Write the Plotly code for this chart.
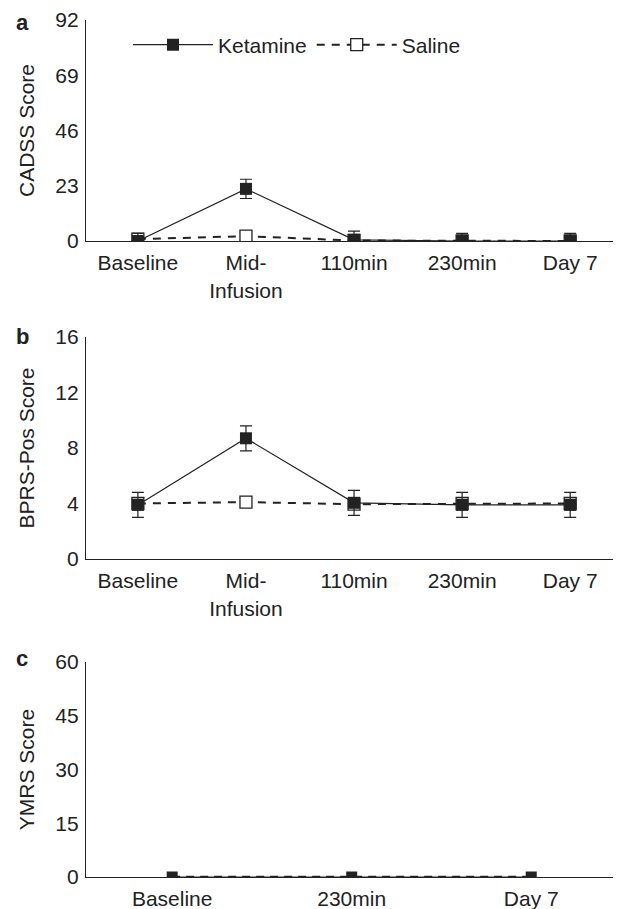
import plotly.graph_objects as go

# ---- data ----
cats_ab = ["Baseline", "Mid-<br>Infusion", "110min", "230min", "Day 7"]
cats_c = ["Baseline", "230min", "Day 7"]

cadss_ket = [0.0, 21.7, 0.5, 0.0, 0.0]
cadss_ket_err = [3.2, 4.0, 3.6, 3.2, 3.2]
cadss_sal = [0.8, 2.0, 0.2, 0.0, 0.0]

bprs_ket = [3.9, 8.7, 4.05, 3.9, 3.9]
bprs_ket_err = [0.9, 0.9, 0.9, 0.9, 0.9]
bprs_sal = [4.0, 4.1, 3.95, 4.0, 4.0]

ymrs_ket = [0.0, 0.0, 0.0]
ymrs_sal = [0.0, 0.0, 0.0]

yticks_a = [0, 23, 46, 69, 92]
yticks_b = [0, 4, 8, 12, 16]
yticks_c = [0, 15, 30, 45, 60]

DARK = "#222222"
FONT = "Liberation Sans, Arial, sans-serif"
OFF = 8               # page body margin
W, H = 621 - OFF, 909 - OFF

def py(px):
    return 1 - (px - OFF) / H

def pxx(px):
    return (px - OFF) / W

fig = go.Figure()

xa = list(range(len(cats_ab)))
xc = list(range(len(cats_c)))

# Panel a
fig.add_trace(go.Scatter(x=xa, y=cadss_sal, mode="lines+markers", name="Saline",
                         line=dict(color=DARK, width=2, dash="8px,7px"),
                         marker=dict(symbol="square", size=12, color="white",
                                     line=dict(color=DARK, width=1.3)),
                         xaxis="x", yaxis="y", legendrank=2))
fig.add_trace(go.Scatter(x=xa, y=cadss_ket, mode="lines+markers", name="Ketamine",
                         line=dict(color=DARK, width=1.2),
                         marker=dict(symbol="square", size=12, color=DARK),
                         error_y=dict(type="data", array=cadss_ket_err, color=DARK,
                                      thickness=1.2, width=6),
                         xaxis="x", yaxis="y", legendrank=1))
# Panel b
fig.add_trace(go.Scatter(x=xa, y=bprs_sal, mode="lines+markers", name="Saline",
                         line=dict(color=DARK, width=2, dash="8px,7px"),
                         marker=dict(symbol="square", size=12, color="white",
                                     line=dict(color=DARK, width=1.3)),
                         xaxis="x2", yaxis="y2", showlegend=False))
fig.add_trace(go.Scatter(x=xa, y=bprs_ket, mode="lines+markers", name="Ketamine",
                         line=dict(color=DARK, width=1.2),
                         marker=dict(symbol="square", size=12, color=DARK),
                         error_y=dict(type="data", array=bprs_ket_err, color=DARK,
                                      thickness=1.2, width=6),
                         xaxis="x2", yaxis="y2", showlegend=False))
# Panel c
fig.add_trace(go.Scatter(x=xc, y=ymrs_ket, mode="lines+markers", name="Ketamine",
                         line=dict(color=DARK, width=1.2),
                         marker=dict(symbol="square", size=11, color=DARK),
                         xaxis="x3", yaxis="y3", showlegend=False))
fig.add_trace(go.Scatter(x=xc, y=ymrs_sal, mode="lines", name="Saline",
                         line=dict(color=DARK, width=2.5, dash="8px,6px"),
                         xaxis="x3", yaxis="y3", showlegend=False))

xdom = [pxx(86), 1.0]
common_x = dict(showgrid=False, zeroline=False, showline=True, linecolor=DARK,
                linewidth=1.2, ticks="", tickfont=dict(family=FONT, size=21, color=DARK),
                tickmode="array", domain=xdom, automargin=False, ticklabelstandoff=3)
common_y = dict(showgrid=False, zeroline=False, showline=True, linecolor=DARK,
                linewidth=1.2, ticks="", tickfont=dict(family=FONT, size=21, color=DARK),
                tickmode="array", ticklabelstandoff=2, automargin=False,
                title_font=dict(family=FONT, size=21, color=DARK), title_standoff=14)

letter = dict(xref="paper", yref="paper", showarrow=False, xanchor="center",
              yanchor="middle", font=dict(family=FONT, size=22, color=DARK))

fig.update_layout(
    width=W, height=H, margin=dict(l=0, r=0, t=0, b=0, autoexpand=False),
    paper_bgcolor="white", plot_bgcolor="white",
    xaxis=dict(common_x, range=[-0.48, 4.47], tickvals=xa, ticktext=cats_ab, anchor="y"),
    yaxis=dict(common_y, domain=[py(241), py(20)], range=[0, 92], tickvals=yticks_a,
               title_text="CADSS Score", anchor="x"),
    xaxis2=dict(common_x, range=[-0.48, 4.47], tickvals=xa, ticktext=cats_ab, anchor="y2"),
    yaxis2=dict(common_y, domain=[py(559), py(337)], range=[0, 16], tickvals=yticks_b,
                title_text="BPRS-Pos Score", anchor="x2"),
    xaxis3=dict(common_x, range=[-0.48, 2.5], tickvals=xc, ticktext=cats_c, anchor="y3"),
    yaxis3=dict(common_y, domain=[py(877), py(662)], range=[0, 60], tickvals=yticks_c,
                title_text="YMRS Score", anchor="x3"),
    legend=dict(orientation="h", x=pxx(128), y=py(45), xanchor="left", yanchor="middle",
                font=dict(family=FONT, size=21, color=DARK), itemwidth=80,
                bgcolor="rgba(0,0,0,0)", traceorder="normal", tracegroupgap=0),
    showlegend=True,
    annotations=[
        dict(letter, text="<b>a</b>", x=pxx(22), y=py(23)),
        dict(letter, text="<b>b</b>", x=pxx(22), y=py(336)),
        dict(letter, text="<b>c</b>", x=pxx(22), y=py(658)),
    ],
)

fig.write_html("out.html")
